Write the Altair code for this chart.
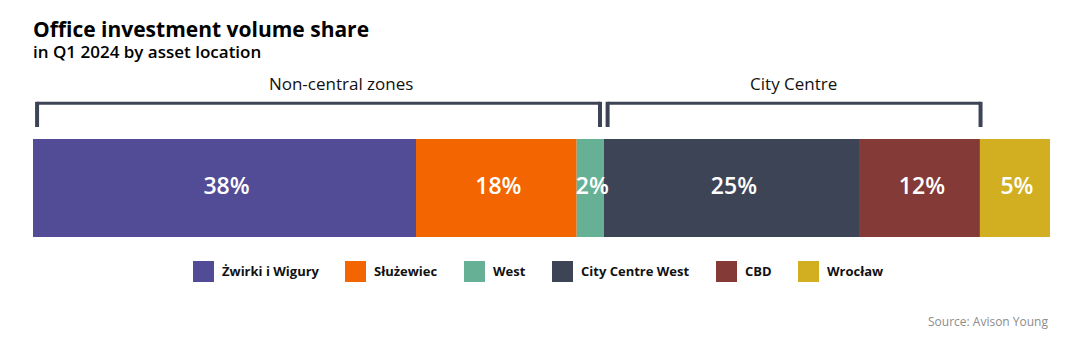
import altair as alt
import pandas as pd

# ---- data ----
categories = ["Żwirki i Wigury", "Służewiec", "West", "City Centre West", "CBD", "Wrocław"]
shares = [37.66, 15.80, 2.68, 25.17, 11.80, 6.89]          # bar widths (share of volume, %)
share_labels = ["38%", "18%", "2%", "25%", "12%", "5%"]     # printed labels
colors = ["#524C96", "#F26500", "#66B096", "#3D4456", "#843A36", "#D2AF20"]

groups = ["Non-central zones", "City Centre"]
group_start = [0.4, 56.5]
group_end = [55.75, 93.17]
group_label_pos = [30.3, 74.8]

title_text = "Office investment volume share"
subtitle_text = "in Q1 2024 by asset location"
source_text = "Source: Avison Young"

FONT = "Open Sans"
DARK = "#3D4456"

# ---- tables ----
starts = []
acc = 0.0
for v in shares:
    starts.append(acc)
    acc += v
bars = pd.DataFrame({
    "cat": categories,
    "start": starts,
    "end": [s + v for s, v in zip(starts, shares)],
    "label": share_labels,
})
bars["mid"] = (bars["start"] + bars["end"]) / 2

brk = pd.DataFrame({"group": groups, "start": group_start, "end": group_end, "pos": group_label_pos})

xscale = alt.Scale(domain=[0, 100], range=[33, 1050], nice=False, zero=False)

bar = alt.Chart(bars).mark_bar(strokeWidth=0).encode(
    x=alt.X("start:Q", scale=xscale, axis=None),
    x2="end:Q",
    y=alt.value(139),
    y2=alt.value(237),
    color=alt.Color(
        "cat:N",
        scale=alt.Scale(domain=categories, range=colors),
        legend=alt.Legend(
            title=None,
            orient="none",
            legendX=193,
            legendY=261,
            direction="horizontal",
            symbolType="square",
            symbolSize=441,
            symbolStrokeWidth=0,
            symbolOpacity=1,
            labelFont=FONT,
            labelFontWeight="bold",
            labelFontSize=13,
            labelColor="#111111",
            labelOffset=8,
            columnPadding=26,
            padding=0,
            offset=0,
        ),
    ),
)

bar_text = alt.Chart(bars).mark_text(
    color="white", font=FONT, fontSize=23, fontWeight=600, baseline="middle", align="center", dx=2
).encode(
    x=alt.X("mid:Q", scale=xscale, axis=None),
    y=alt.value(187),
    text="label:N",
)

h_rule = alt.Chart(brk).mark_rule(color=DARK, strokeWidth=3).encode(
    x=alt.X("start:Q", scale=xscale, axis=None),
    x2="end:Q",
    y=alt.value(103.3),
)
v_left = alt.Chart(brk).mark_rule(color=DARK, strokeWidth=4).encode(
    x=alt.X("start:Q", scale=xscale, axis=None),
    y=alt.value(101.8),
    y2=alt.value(127),
)
v_right = alt.Chart(brk).mark_rule(color=DARK, strokeWidth=4).encode(
    x=alt.X("end:Q", scale=xscale, axis=None),
    y=alt.value(101.8),
    y2=alt.value(127),
)
grp_text = alt.Chart(brk).mark_text(
    font=FONT, fontSize=17, color="#111111", baseline="alphabetic", align="center"
).encode(
    x=alt.X("pos:Q", scale=xscale, axis=None),
    y=alt.value(90),
    text="group:N",
)

title = alt.Chart(pd.DataFrame({"t": [title_text]})).mark_text(
    font=FONT, fontSize=21, fontWeight="bold", color="#000000", align="left", baseline="alphabetic"
).encode(x=alt.value(33), y=alt.value(37), text="t:N")

subtitle = alt.Chart(pd.DataFrame({"t": [subtitle_text]})).mark_text(
    font=FONT, fontSize=17, fontWeight=600, color="#000000", align="left", baseline="alphabetic"
).encode(x=alt.value(33), y=alt.value(58), text="t:N")

source = alt.Chart(pd.DataFrame({"t": [source_text]})).mark_text(
    font=FONT, fontSize=12, color="#8C8C8C", align="right", baseline="alphabetic"
).encode(x=alt.value(1048), y=alt.value(326), text="t:N")

chart = alt.layer(
    bar, bar_text, h_rule, v_left, v_right, grp_text, title, subtitle, source
).properties(
    width=1074,
    height=343,
    padding=0,
    autosize=alt.AutoSizeParams(type="none"),
    background="white",
).configure_view(strokeWidth=0)

chart.save("out.html", embed_options={"renderer": "svg", "actions": False})
